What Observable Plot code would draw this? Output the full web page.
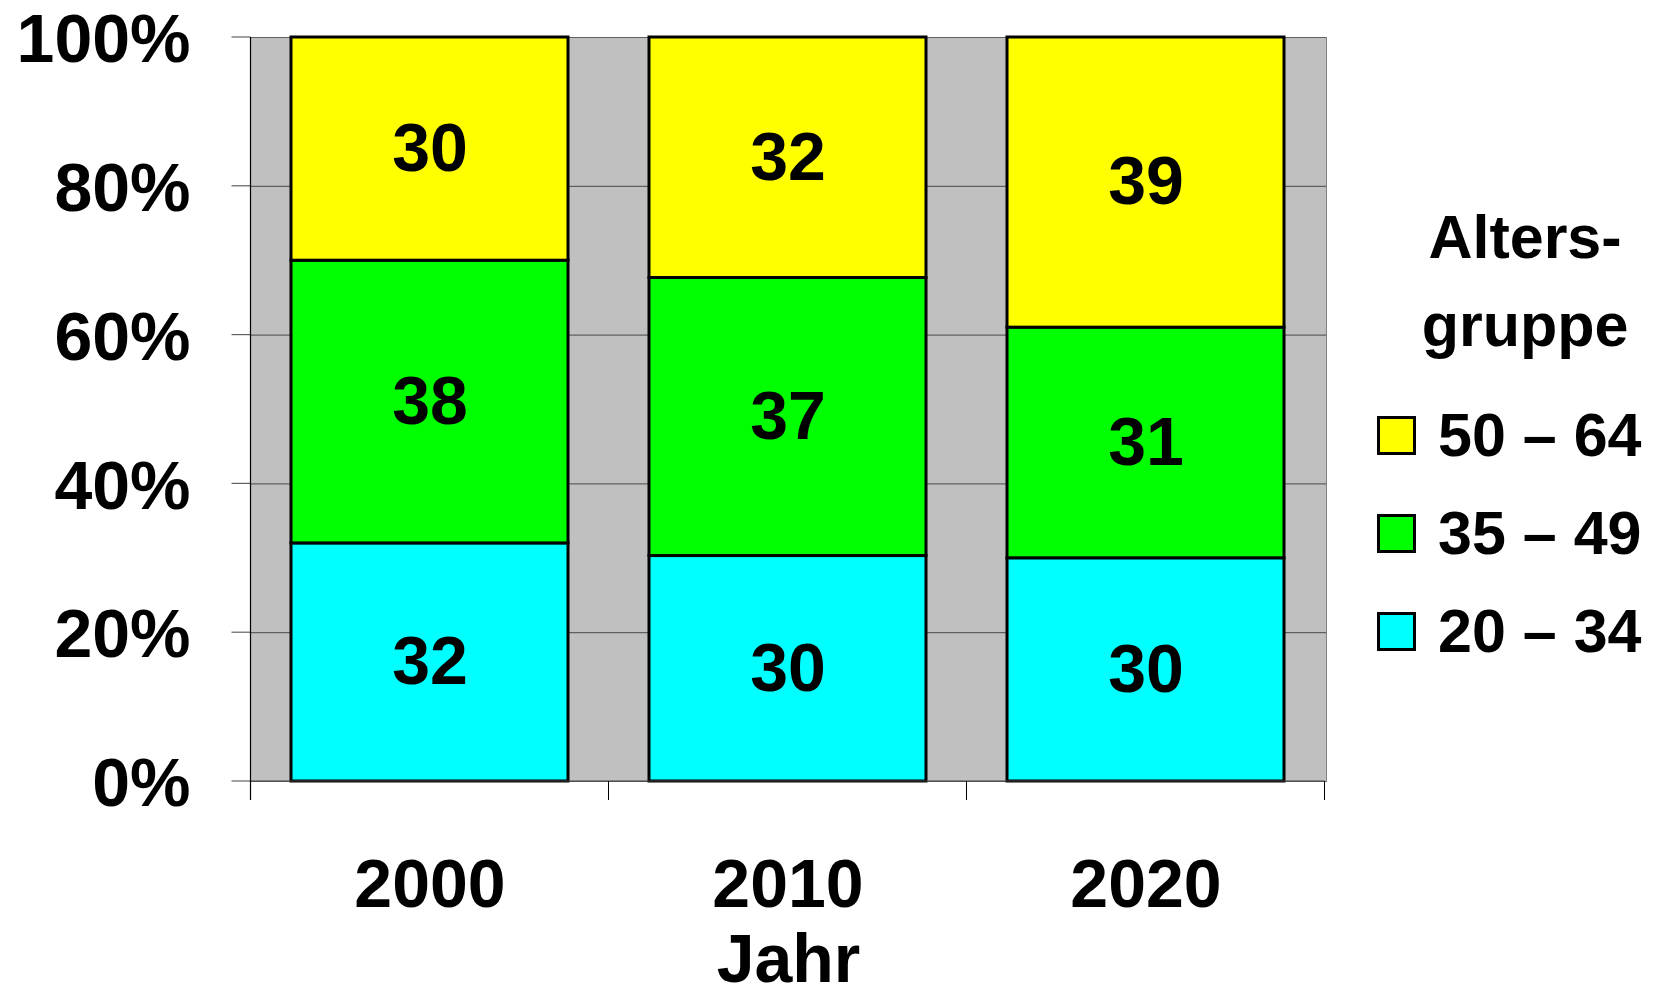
<!DOCTYPE html>
<html><head><meta charset="utf-8">
<script src="https://cdn.jsdelivr.net/npm/d3@7"></script>
<script src="https://cdn.jsdelivr.net/npm/@observablehq/plot@0.6"></script>
<style>
html,body{margin:0;padding:0;background:#fff;}
#wrap{position:relative;width:1654px;height:995px;font-family:"Liberation Sans",Arial,sans-serif;font-weight:bold;color:#000;}
#legend-title{position:absolute;left:1400px;width:250px;top:193px;text-align:center;font-size:61px;line-height:88px;}
.row{position:absolute;left:1377px;height:98px;display:flex;align-items:center;font-size:61px;white-space:nowrap;}
.sw{width:33px;height:33px;border:3px solid #000;margin-right:22px;box-sizing:content-box;}
</style></head>
<body><div id="wrap"></div>
<script>
const years = ["2000", "2010", "2020"];
const groups = ["20 – 34", "35 – 49", "50 – 64"];
const colors = ["#00FFFF", "#00FF00", "#FFFF00"];
const values2034 = [32, 30, 30];
const values3549 = [38, 37, 31];
const values5064 = [30, 32, 39];
const yTicks = [0, 20, 40, 60, 80, 100];
const legendTitle = ["Alters-", "gruppe"];
const xLabel = "Jahr";

const series = [values2034, values3549, values5064];
const data = [];
years.forEach((yr, i) => {
  groups.forEach((g, j) => data.push({year: yr, group: g, value: series[j][i]}));
});

const PI = 0.226, PO = 0.113;
const FONT = "'Liberation Sans', Arial, sans-serif";
const TICK = 19;

function axisLines(index, scales, values, dimensions) {
  const sx = scales.x, sy = scales.y;
  let centers;
  if (sx && typeof sx.bandwidth === "function") {
    centers = years.map(y => sx(y) + sx.bandwidth() / 2);
  } else {
    const l = dimensions.marginLeft, r = dimensions.width - dimensions.marginRight;
    const st = (r - l) / years.length;
    centers = years.map((_, i) => l + st * (i + 0.5));
  }
  const step = centers[1] - centers[0];
  const edges = [centers[0] - step / 2, ...centers.map(c => c + step / 2)];
  const y0 = sy(0), y1 = sy(1);
  const g = d3.create("svg:g");
  // y tick marks
  g.selectAll("line.yt").data(yTicks).join("line").attr("class", "yt")
    .attr("x1", edges[0] - TICK).attr("x2", edges[0])
    .attr("y1", d => sy(d / 100)).attr("y2", d => sy(d / 100))
    .attr("stroke", "#606060").attr("stroke-width", 1.2);
  // bottom axis line
  g.append("line").attr("x1", edges[0]).attr("x2", edges[edges.length - 1])
    .attr("y1", y0).attr("y2", y0).attr("stroke", "#404040").attr("stroke-width", 1.2);
  // x tick marks at category boundaries
  g.selectAll("line.xt").data(edges).join("line").attr("class", "xt")
    .attr("x1", d => d).attr("x2", d => d).attr("y1", y0).attr("y2", y0 + TICK)
    .attr("stroke", "#000").attr("stroke-width", 1);
  // left axis line
  g.append("line").attr("x1", edges[0]).attr("x2", edges[0])
    .attr("y1", y1).attr("y2", y0 + TICK).attr("stroke", "#000").attr("stroke-width", 1.2);
  return g.node();
}

const chart = Plot.plot({
  width: 1654, height: 995,
  marginLeft: 250, marginRight: 328, marginTop: 37, marginBottom: 214,
  style: {fontFamily: FONT, fontWeight: "bold", fontSize: "68px", background: "transparent", color: "#000"},
  x: {type: "band", domain: years, paddingInner: PI, paddingOuter: PO, label: null},
  y: {domain: [0, 1], label: null},
  color: {domain: groups, range: colors},
  marks: [
    Plot.frame({fill: "#C0C0C0", stroke: "#808080"}),
    Plot.ruleY(yTicks, {y: d => d / 100, stroke: "#606060", strokeWidth: 1.2}),
    Plot.barY(data, Plot.stackY({x: "year", y: "value", z: "group", fill: "group", order: groups, offset: "normalize", stroke: "#000", strokeWidth: 3})),
    Plot.text(data, Plot.stackY({x: "year", y: "value", z: "group", order: groups, offset: "normalize", text: "value", fontSize: 68, fontWeight: "bold", fill: "#000"})),
    Plot.axisY({ticks: yTicks.map(d => d / 100), tickSize: 0, tickPadding: 60, tickFormat: d3.format(".0%"), fontSize: 68, fontWeight: "bold", dy: 3, label: null}),
    Plot.axisX({tickSize: 0, tickPadding: 77, fontSize: 68, fontWeight: "bold", label: null}),
    Plot.text([xLabel], {text: d => d, frameAnchor: "bottom", lineAnchor: "top", dy: 152, fontSize: 68, fontWeight: "bold", fill: "#000"}),
    axisLines
  ]
});

const wrap = document.getElementById("wrap");
wrap.appendChild(chart);

const title = document.createElement("div");
title.id = "legend-title";
title.innerHTML = legendTitle.join("<br>");
wrap.appendChild(title);

const rowTops = [386, 484, 582];
[...groups].reverse().forEach((g, k) => {
  const row = document.createElement("div");
  row.className = "row";
  row.style.top = rowTops[k] + "px";
  const sw = document.createElement("div");
  sw.className = "sw";
  sw.style.background = colors[groups.indexOf(g)];
  const lab = document.createElement("span");
  lab.textContent = g;
  row.appendChild(sw); row.appendChild(lab);
  wrap.appendChild(row);
});
</script>
</body></html>
